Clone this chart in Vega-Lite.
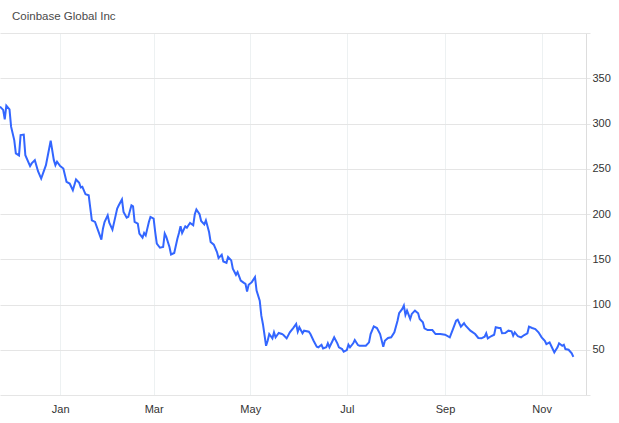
{
  "$schema": "https://vega.github.io/schema/vega-lite/v6.json",
  "width": 586,
  "height": 362,
  "autosize": "none",
  "padding": {"left": 0, "top": 33, "right": 33, "bottom": 28},
  "background": "white",
  "title": {
    "text": "Coinbase Global Inc",
    "anchor": "start",
    "frame": "group",
    "dx": 12,
    "offset": 1,
    "baseline": "alphabetic",
    "font": "Liberation Sans",
    "fontSize": 11.5,
    "fontWeight": "normal",
    "color": "#4a4a4a"
  },
  "config": {
    "view": {"stroke": null},
    "axis": {"labelFont": "Liberation Sans", "labelFontSize": 11, "labelColor": "#333333"}
  },
  "data": {
    "values": [
      {"date": "2021-11-24", "price": 318.7},
      {"date": "2021-11-26", "price": 315.0},
      {"date": "2021-11-27", "price": 304.6},
      {"date": "2021-11-28", "price": 319.8},
      {"date": "2021-11-30", "price": 315.7},
      {"date": "2021-12-01", "price": 296.5},
      {"date": "2021-12-03", "price": 281.7},
      {"date": "2021-12-04", "price": 267.0},
      {"date": "2021-12-06", "price": 264.7},
      {"date": "2021-12-07", "price": 287.2},
      {"date": "2021-12-09", "price": 287.7},
      {"date": "2021-12-10", "price": 265.0},
      {"date": "2021-12-13", "price": 252.9},
      {"date": "2021-12-14", "price": 255.9},
      {"date": "2021-12-16", "price": 259.5},
      {"date": "2021-12-18", "price": 247.3},
      {"date": "2021-12-20", "price": 239.2},
      {"date": "2021-12-23", "price": 254.0},
      {"date": "2021-12-26", "price": 281.0},
      {"date": "2021-12-28", "price": 259.5},
      {"date": "2021-12-29", "price": 254.0},
      {"date": "2021-12-30", "price": 257.8},
      {"date": "2022-01-01", "price": 252.9},
      {"date": "2022-01-03", "price": 250.3},
      {"date": "2022-01-05", "price": 235.6},
      {"date": "2022-01-07", "price": 233.7},
      {"date": "2022-01-09", "price": 226.3},
      {"date": "2022-01-11", "price": 238.1},
      {"date": "2022-01-13", "price": 234.5},
      {"date": "2022-01-14", "price": 229.3},
      {"date": "2022-01-15", "price": 230.0},
      {"date": "2022-01-17", "price": 221.8},
      {"date": "2022-01-19", "price": 220.7},
      {"date": "2022-01-21", "price": 193.0},
      {"date": "2022-01-23", "price": 191.2},
      {"date": "2022-01-27", "price": 171.6},
      {"date": "2022-01-28", "price": 183.8},
      {"date": "2022-01-29", "price": 191.2},
      {"date": "2022-01-31", "price": 198.6},
      {"date": "2022-02-01", "price": 190.5},
      {"date": "2022-02-03", "price": 182.7},
      {"date": "2022-02-06", "price": 206.0},
      {"date": "2022-02-07", "price": 209.6},
      {"date": "2022-02-09", "price": 216.0},
      {"date": "2022-02-10", "price": 202.3},
      {"date": "2022-02-12", "price": 196.0},
      {"date": "2022-02-13", "price": 196.8},
      {"date": "2022-02-15", "price": 209.6},
      {"date": "2022-02-16", "price": 208.5},
      {"date": "2022-02-17", "price": 191.2},
      {"date": "2022-02-19", "price": 189.3},
      {"date": "2022-02-20", "price": 178.3},
      {"date": "2022-02-22", "price": 173.8},
      {"date": "2022-02-23", "price": 179.0},
      {"date": "2022-02-24", "price": 176.4},
      {"date": "2022-02-26", "price": 191.2},
      {"date": "2022-02-27", "price": 196.8},
      {"date": "2022-03-01", "price": 194.9},
      {"date": "2022-03-02", "price": 180.1},
      {"date": "2022-03-03", "price": 167.2},
      {"date": "2022-03-05", "price": 162.7},
      {"date": "2022-03-07", "price": 163.5},
      {"date": "2022-03-08", "price": 178.3},
      {"date": "2022-03-09", "price": 174.6},
      {"date": "2022-03-11", "price": 163.5},
      {"date": "2022-03-12", "price": 155.3},
      {"date": "2022-03-14", "price": 156.9},
      {"date": "2022-03-16", "price": 172.7},
      {"date": "2022-03-17", "price": 179.0},
      {"date": "2022-03-18", "price": 186.4},
      {"date": "2022-03-19", "price": 179.0},
      {"date": "2022-03-21", "price": 186.4},
      {"date": "2022-03-22", "price": 184.9},
      {"date": "2022-03-23", "price": 187.5},
      {"date": "2022-03-24", "price": 190.1},
      {"date": "2022-03-26", "price": 187.5},
      {"date": "2022-03-27", "price": 199.7},
      {"date": "2022-03-28", "price": 204.9},
      {"date": "2022-03-30", "price": 199.7},
      {"date": "2022-03-31", "price": 192.3},
      {"date": "2022-04-02", "price": 188.6},
      {"date": "2022-04-03", "price": 193.0},
      {"date": "2022-04-05", "price": 180.1},
      {"date": "2022-04-06", "price": 169.1},
      {"date": "2022-04-08", "price": 166.1},
      {"date": "2022-04-10", "price": 158.0},
      {"date": "2022-04-11", "price": 151.3},
      {"date": "2022-04-13", "price": 155.0},
      {"date": "2022-04-14", "price": 147.6},
      {"date": "2022-04-16", "price": 146.1},
      {"date": "2022-04-17", "price": 152.4},
      {"date": "2022-04-19", "price": 148.7},
      {"date": "2022-04-20", "price": 139.5},
      {"date": "2022-04-22", "price": 132.8},
      {"date": "2022-04-23", "price": 135.8},
      {"date": "2022-04-25", "price": 126.5},
      {"date": "2022-04-27", "price": 123.9},
      {"date": "2022-04-28", "price": 122.8},
      {"date": "2022-04-29", "price": 114.3},
      {"date": "2022-04-30", "price": 121.7},
      {"date": "2022-05-02", "price": 124.7},
      {"date": "2022-05-04", "price": 130.3},
      {"date": "2022-05-05", "price": 115.4},
      {"date": "2022-05-07", "price": 104.3},
      {"date": "2022-05-08", "price": 87.7},
      {"date": "2022-05-09", "price": 78.5},
      {"date": "2022-05-11", "price": 54.4},
      {"date": "2022-05-12", "price": 60.0},
      {"date": "2022-05-13", "price": 67.4},
      {"date": "2022-05-15", "price": 62.6},
      {"date": "2022-05-16", "price": 69.3},
      {"date": "2022-05-17", "price": 63.7},
      {"date": "2022-05-19", "price": 68.5},
      {"date": "2022-05-21", "price": 67.4},
      {"date": "2022-05-22", "price": 66.3},
      {"date": "2022-05-24", "price": 62.6},
      {"date": "2022-05-26", "price": 69.3},
      {"date": "2022-05-28", "price": 73.7},
      {"date": "2022-05-30", "price": 78.5},
      {"date": "2022-05-31", "price": 70.0},
      {"date": "2022-06-01", "price": 74.8},
      {"date": "2022-06-03", "price": 68.2},
      {"date": "2022-06-04", "price": 71.1},
      {"date": "2022-06-07", "price": 70.0},
      {"date": "2022-06-08", "price": 67.4},
      {"date": "2022-06-10", "price": 60.0},
      {"date": "2022-06-12", "price": 53.3},
      {"date": "2022-06-13", "price": 52.7},
      {"date": "2022-06-15", "price": 55.5},
      {"date": "2022-06-16", "price": 51.5},
      {"date": "2022-06-18", "price": 52.7},
      {"date": "2022-06-19", "price": 57.1},
      {"date": "2022-06-20", "price": 52.7},
      {"date": "2022-06-22", "price": 60.0},
      {"date": "2022-06-23", "price": 63.7},
      {"date": "2022-06-25", "price": 57.1},
      {"date": "2022-06-26", "price": 52.7},
      {"date": "2022-06-28", "price": 50.8},
      {"date": "2022-06-29", "price": 47.8},
      {"date": "2022-07-01", "price": 49.7},
      {"date": "2022-07-02", "price": 55.5},
      {"date": "2022-07-03", "price": 52.7},
      {"date": "2022-07-05", "price": 57.1},
      {"date": "2022-07-06", "price": 60.8},
      {"date": "2022-07-08", "price": 55.2},
      {"date": "2022-07-09", "price": 54.4},
      {"date": "2022-07-13", "price": 54.4},
      {"date": "2022-07-15", "price": 58.2},
      {"date": "2022-07-16", "price": 67.4},
      {"date": "2022-07-18", "price": 75.9},
      {"date": "2022-07-20", "price": 74.0},
      {"date": "2022-07-22", "price": 67.4},
      {"date": "2022-07-24", "price": 53.3},
      {"date": "2022-07-25", "price": 60.0},
      {"date": "2022-07-27", "price": 63.0},
      {"date": "2022-07-29", "price": 63.7},
      {"date": "2022-07-31", "price": 69.3},
      {"date": "2022-08-02", "price": 82.1},
      {"date": "2022-08-03", "price": 90.3},
      {"date": "2022-08-05", "price": 95.1},
      {"date": "2022-08-06", "price": 98.8},
      {"date": "2022-08-07", "price": 88.5},
      {"date": "2022-08-08", "price": 93.2},
      {"date": "2022-08-10", "price": 84.0},
      {"date": "2022-08-11", "price": 89.6},
      {"date": "2022-08-13", "price": 93.2},
      {"date": "2022-08-15", "price": 90.3},
      {"date": "2022-08-16", "price": 84.0},
      {"date": "2022-08-18", "price": 80.4},
      {"date": "2022-08-19", "price": 73.7},
      {"date": "2022-08-21", "price": 71.8},
      {"date": "2022-08-24", "price": 71.8},
      {"date": "2022-08-26", "price": 67.4},
      {"date": "2022-08-29", "price": 67.4},
      {"date": "2022-09-01", "price": 66.6},
      {"date": "2022-09-04", "price": 63.7},
      {"date": "2022-09-06", "price": 72.9},
      {"date": "2022-09-08", "price": 82.1},
      {"date": "2022-09-09", "price": 83.2},
      {"date": "2022-09-11", "price": 75.5},
      {"date": "2022-09-13", "price": 79.3},
      {"date": "2022-09-14", "price": 76.6},
      {"date": "2022-09-17", "price": 71.1},
      {"date": "2022-09-20", "price": 67.4},
      {"date": "2022-09-22", "price": 63.0},
      {"date": "2022-09-24", "price": 62.6},
      {"date": "2022-09-26", "price": 64.4},
      {"date": "2022-09-27", "price": 68.2},
      {"date": "2022-09-28", "price": 62.6},
      {"date": "2022-09-30", "price": 64.9},
      {"date": "2022-10-02", "price": 66.6},
      {"date": "2022-10-03", "price": 74.8},
      {"date": "2022-10-05", "price": 74.0},
      {"date": "2022-10-06", "price": 74.0},
      {"date": "2022-10-07", "price": 68.2},
      {"date": "2022-10-09", "price": 68.5},
      {"date": "2022-10-11", "price": 71.1},
      {"date": "2022-10-13", "price": 70.4},
      {"date": "2022-10-14", "price": 65.5},
      {"date": "2022-10-15", "price": 69.3},
      {"date": "2022-10-17", "price": 64.9},
      {"date": "2022-10-19", "price": 63.7},
      {"date": "2022-10-21", "price": 66.3},
      {"date": "2022-10-23", "price": 68.2},
      {"date": "2022-10-24", "price": 75.5},
      {"date": "2022-10-26", "price": 74.0},
      {"date": "2022-10-28", "price": 72.9},
      {"date": "2022-10-30", "price": 69.3},
      {"date": "2022-11-01", "price": 63.7},
      {"date": "2022-11-03", "price": 60.0},
      {"date": "2022-11-04", "price": 56.3},
      {"date": "2022-11-06", "price": 58.2},
      {"date": "2022-11-07", "price": 54.4},
      {"date": "2022-11-09", "price": 47.1},
      {"date": "2022-11-11", "price": 52.7},
      {"date": "2022-11-12", "price": 57.1},
      {"date": "2022-11-14", "price": 54.4},
      {"date": "2022-11-15", "price": 55.5},
      {"date": "2022-11-16", "price": 50.8},
      {"date": "2022-11-18", "price": 50.0},
      {"date": "2022-11-20", "price": 46.0},
      {"date": "2022-11-21", "price": 42.2}
    ]
  },
  "mark": {"type": "line", "color": "#3366ff", "strokeWidth": 2, "clip": true},
  "encoding": {
    "x": {
      "field": "date",
      "type": "temporal",
      "title": null,
      "scale": {
        "domain": [{"year": 2021, "month": 11, "date": 24}, {"year": 2022, "month": 11, "date": 29}],
        "nice": false
      },
      "axis": {
        "format": "%b",
        "tickCount": {"interval": "month", "step": 2},
        "domain": false,
        "ticks": false,
        "labelPadding": 8,
        "gridColor": "#edf1f2",
        "labelAlign": "center"
      }
    },
    "y": {
      "field": "price",
      "type": "quantitative",
      "title": null,
      "scale": {"domain": [0, 400], "nice": false},
      "axis": {
        "orient": "right",
        "values": [0, 50, 100, 150, 200, 250, 300, 350, 400],
        "labelExpr": "datum.value == 0 || datum.value == 400 ? '' : datum.label",
        "domainColor": "#dddddd",
        "tickColor": "#e5e5e5",
        "tickSize": 4,
        "labelPadding": 2,
        "gridColor": "#e5e5e5"
      }
    }
  }
}
